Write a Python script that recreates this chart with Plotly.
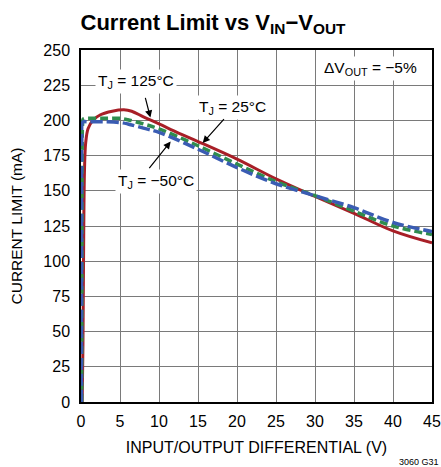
import plotly.graph_objects as go

# ---- data ----
x_125 = [0.15, 0.25, 0.35, 0.45, 0.6, 0.9, 1.5, 2.5, 4, 5.5, 6.5, 8, 10, 12.5, 15, 20, 25, 30, 35, 40, 45]
y_125 = [0, 40, 120, 165, 184, 194, 200, 204, 206.5, 207.5, 206.5, 202.5, 197.5, 191, 185, 172.5, 158.5, 146, 134, 121.5, 113]

x_25 = [0.1, 0.12, 0.15, 0.2, 0.3, 1, 3, 5, 6, 8, 10, 15, 20, 25, 30, 35, 40, 45]
y_25 = [0, 100, 180, 197, 201, 201.5, 201.5, 201.5, 200.5, 197.5, 194, 182, 169, 156.5, 146.5, 135.5, 125, 119]

x_m50 = [0.05, 0.07, 0.1, 0.15, 0.3, 1, 3, 5, 6, 8, 10, 15, 20, 25, 30, 35, 40, 45]
y_m50 = [0, 100, 185, 198, 199, 199, 199, 198.5, 197.5, 194.5, 191.5, 179.5, 166.5, 155, 146.5, 138, 127.5, 121]

x_ticks = [0, 5, 10, 15, 20, 25, 30, 35, 40, 45]
y_ticks = [0, 25, 50, 75, 100, 125, 150, 175, 200, 225, 250]

FONT = "Liberation Sans"
RED = "#a81f27"
GREEN = "#2f8c4e"
BLUE = "#3a5cb3"

W, H = 441, 467

fig = go.Figure()
fig.add_trace(go.Scatter(x=x_125, y=y_125, mode="lines", line=dict(color=RED, width=3), line_shape="spline"))
fig.add_trace(go.Scatter(x=x_25, y=y_25, mode="lines", line=dict(color=GREEN, width=3.5, dash="8px,4px"), line_shape="spline"))
fig.add_trace(go.Scatter(x=x_m50, y=y_m50, mode="lines", line=dict(color=BLUE, width=3.5, dash="12px,4px"), line_shape="spline"))

fig.update_layout(
    width=W, height=H,
    margin=dict(l=81, r=9, t=50, b=65),
    paper_bgcolor="white", plot_bgcolor="white",
    showlegend=False,
    font=dict(family=FONT, size=16, color="black"),
    title=dict(text="<b>Current Limit vs V<sub>IN</sub>−V<sub>OUT</sub></b>",
               x=0.483, xanchor="center", y=1 - 22 / H, yanchor="middle",
               font=dict(family=FONT, size=22, color="black")),
)
fig.update_xaxes(range=[0, 45], tickvals=x_ticks, showgrid=True, gridcolor="#7a7a7a", gridwidth=1.3,
                 showline=True, linecolor="black", linewidth=1.5, mirror=True, zeroline=False,
                 ticks="", ticklabelstandoff=4, automargin=False, ticklabeloverflow="allow",
                 title=dict(text="INPUT/OUTPUT DIFFERENTIAL (V)", standoff=13, font=dict(size=16)))
fig.update_yaxes(range=[0, 250], tickvals=y_ticks, showgrid=True, gridcolor="#7a7a7a", gridwidth=1.3,
                 showline=True, linecolor="black", linewidth=1.5, mirror=True, zeroline=False,
                 ticks="", ticklabelstandoff=6, automargin=False,
                 title=dict(text="CURRENT LIMIT (mA)", standoff=17, font=dict(size=15.5)))

ann_font = dict(family=FONT, size=15.5, color="black")
# text labels with white boxes
fig.add_annotation(x=7.05, y=227.5, text="T<sub>J</sub> = 125°C", showarrow=False, bgcolor="white", font=ann_font, borderpad=2)
fig.add_annotation(x=19.4, y=209, text="T<sub>J</sub> = 25°C", showarrow=False, bgcolor="white", font=ann_font, borderpad=2)
fig.add_annotation(x=9.6, y=156.4, text="T<sub>J</sub> = −50°C", showarrow=False, bgcolor="white", font=ann_font, borderpad=2)
fig.add_annotation(x=37.1, y=236.8, text="ΔV<sub>OUT</sub> = −5%", showarrow=False, bgcolor="white", font=ann_font, borderpad=2)

# arrows
for (hx, hy, tx, ty) in [(8.9, 202, 8.2, 217), (15.6, 184, 18.5, 202), (11.5, 185, 8.6, 165)]:
    fig.add_annotation(x=hx, y=hy, ax=tx, ay=ty, axref="x", ayref="y", text="", showarrow=True,
                       arrowhead=2, arrowsize=1.2, arrowwidth=1.2, arrowcolor="black", standoff=0)

fig.add_annotation(x=1.0, y=0.0, xref="paper", yref="paper", xanchor="right", yanchor="middle",
                   yshift=-60, xshift=8, text="3060 G31", showarrow=False, borderpad=0,
                   font=dict(family=FONT, size=9, color="black"))

fig.write_html("out.html", config={"displayModeBar": False},
               post_script="document.body.style.margin='0';")
